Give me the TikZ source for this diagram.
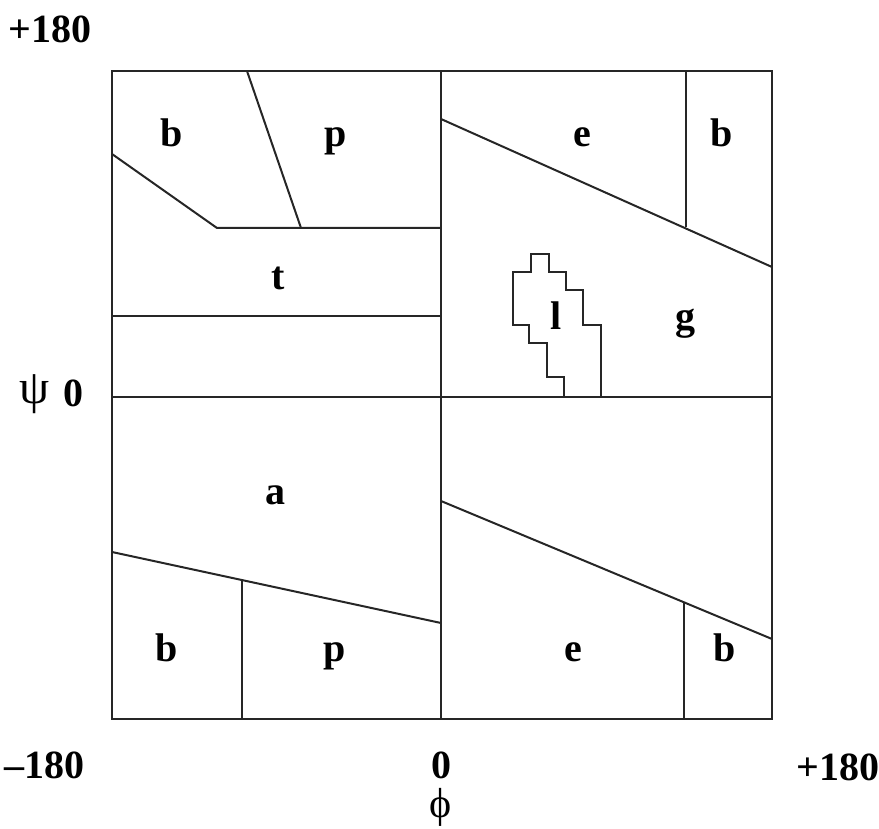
\documentclass[tikz,border=0pt]{standalone}
\usepackage{fontspec}
\setmainfont{Liberation Serif}
\begin{document}
\begin{tikzpicture}[x=0.5pt,y=-0.5pt,
  region/.style={draw=black!85,line width=1pt,line join=miter},
  lab/.style={font=\fontsize{20}{24}\selectfont\bfseries,inner sep=0pt,anchor=base},
  axlab/.style={font=\fontsize{20}{24}\selectfont\bfseries,inner sep=0pt},
  greek/.style={font=\fontsize{24}{28}\selectfont,inner sep=0pt}]
\useasboundingbox (0,0) rectangle (879,829);
% frame and axes
\coordinate (TL) at (112,71);
\coordinate (BR) at (772,719);
\draw[region] (TL) rectangle (BR);
\draw[region] (441,71) -- (441,719);
\draw[region] (112,397) -- (772,397);
% top-left quadrant
\draw[region] (112,154) -- (217,228) -- (441,228);
\draw[region] (247,71) -- (301,228);
\draw[region] (112,316) -- (441,316);
% top-right quadrant
\draw[region] (441,119) -- (772,267);
\draw[region] (686,71) -- (686,227);
\draw[region] (564,397) -- (564,377) -- (547,377) -- (547,343) -- (529,343) -- (529,325)
  -- (513,325) -- (513,272) -- (531,272) -- (531,254) -- (549,254) -- (549,272)
  -- (566,272) -- (566,290) -- (583,290) -- (583,325) -- (601,325) -- (601,397);
% bottom-left quadrant
\draw[region] (112,552) -- (441,623);
\draw[region] (242,581) -- (242,719);
% bottom-right quadrant
\draw[region] (441,501) -- (772,639);
\draw[region] (684,603) -- (684,719);
% region labels
\node[lab] (b1) at (172,147) {b};
\node[lab] (p1) at (336,147) {p};
\node[lab] (t1) at (278,289) {t};
\node[lab] (e1) at (582,147) {e};
\node[lab] (b2) at (722,147) {b};
\node[lab] (l1) at (556,329) {l};
\node[lab] (g1) at (685,329) {g};
\node[lab] (a1) at (275,504) {a};
\node[lab] (b3) at (167,661) {b};
\node[lab] (p2) at (335,661) {p};
\node[lab] (e2) at (573,661) {e};
\node[lab] (b4) at (725,661) {b};
% axis labels
\node[axlab] (ytop) at (50,29) {+180};
\node[greek] (psi) at (35,394) {ψ};
\node[axlab] (yzero) at (73,393) {0};
\node[axlab] (xmin) at (44,765) {–180};
\node[axlab] (xzero) at (441,765) {0};
\node[axlab] (xmax) at (838,767) {+180};
\node[greek,font=\fontsize{21}{24}\selectfont] (phi) at (441,807) {ϕ};
\end{tikzpicture}
\end{document}
